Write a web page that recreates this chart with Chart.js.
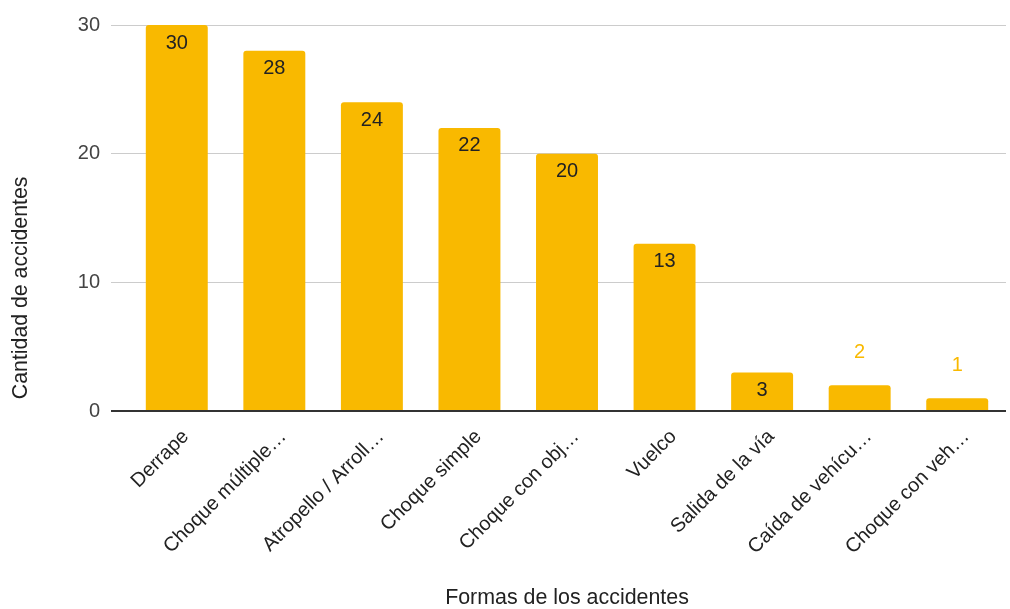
<!DOCTYPE html>
<html>
<head>
<meta charset="utf-8">
<script src="https://cdn.jsdelivr.net/npm/chart.js@4/dist/chart.umd.min.js"></script>
<style>
  html, body { margin: 0; padding: 0; background: #fff; }
  #wrap { width: 1010px; height: 609px; }
</style>
</head>
<body>
<div id="wrap"><canvas id="my-chart" width="1010" height="609"></canvas></div>
<script>
const categories = ['Derrape', 'Choque múltiple…', 'Atropello / Arroll…', 'Choque simple', 'Choque con obj…', 'Vuelco', 'Salida de la vía', 'Caída de vehícu…', 'Choque con veh…'];
const accidentCounts = [30, 28, 24, 22, 20, 13, 3, 2, 1];
const yTicks = [0, 10, 20, 30];

const barColor = '#F9B900';

// value labels: inside the bar top when it fits, above it otherwise
const valueLabels = {
  id: 'valueLabels',
  afterDatasetsDraw(chart) {
    const ctx = chart.ctx;
    const meta = chart.getDatasetMeta(0);
    ctx.save();
    ctx.font = '20px "Liberation Sans"';
    ctx.textAlign = 'center';
    ctx.textBaseline = 'middle';
    meta.data.forEach((bar, i) => {
      const h = bar.base - bar.y;
      if (h > 32) {
        ctx.fillStyle = '#222';
        ctx.fillText(accidentCounts[i], bar.x, bar.y + 18);
      } else {
        ctx.fillStyle = barColor;
        ctx.fillText(accidentCounts[i], bar.x, bar.y - 33);
      }
    });
    ctx.restore();
  }
};

// gridlines in the sheet start a bit left of the first category
const gridStub = {
  id: 'gridStub',
  beforeDatasetsDraw(chart) {
    const ctx = chart.ctx;
    const y = chart.scales.y;
    ctx.save();
    yTicks.forEach(v => {
      const w = v === 0 ? 2 : 1;
      const py = Math.round(y.getPixelForValue(v) - w / 2) + w / 2;
      ctx.strokeStyle = v === 0 ? '#333' : '#ccc';
      ctx.lineWidth = w;
      ctx.beginPath();
      ctx.moveTo(111, py);
      ctx.lineTo(chart.chartArea.left, py);
      ctx.stroke();
    });
    ctx.restore();
  }
};

const ctx = document.getElementById('my-chart').getContext('2d');
const chart = new Chart(ctx, {
  type: 'bar',
  data: {
    labels: categories,
    datasets: [{
      label: 'Cantidad de accidentes',
      data: accidentCounts,
      backgroundColor: barColor,
      borderRadius: { topLeft: 3, topRight: 3 },
      borderSkipped: 'start',
      categoryPercentage: 1,
      barPercentage: 0.635
    }]
  },
  options: {
    responsive: false,
    animation: false,
    layout: { padding: { top: 25, right: 4, left: 0, bottom: 0 } },
    plugins: {
      legend: { display: false },
      tooltip: { enabled: false }
    },
    scales: {
      x: {
        grid: { display: false },
        border: { display: false },
        ticks: {
          color: '#222',
          font: { family: 'Liberation Sans', size: 20 },
          minRotation: 45,
          maxRotation: 45,
          autoSkip: false,
          labelOffset: 9,
          padding: 6
        },
        title: {
          display: true,
          text: 'Formas de los accidentes',
          color: '#222',
          font: { family: 'Liberation Sans', size: 21.4, lineHeight: 1 },
          padding: { top: 0, bottom: 0 }
        },
        afterFit(scale) { scale.height = 198; }
      },
      y: {
        min: 0,
        max: 30,
        afterBuildTicks(scale) { scale.ticks = yTicks.map(v => ({ value: v })); },
        grid: {
          color: c => c.tick && c.tick.value === 0 ? '#333' : '#ccc',
          lineWidth: c => c.tick && c.tick.value === 0 ? 2 : 1,
          drawTicks: false
        },
        border: { display: false },
        ticks: {
          color: '#444',
          font: { family: 'Liberation Sans', size: 20 },
          padding: 28
        },
        title: {
          display: true,
          text: '  Cantidad de accidentes',
          align: 'start',
          color: '#222',
          font: { family: 'Liberation Sans', size: 21.3, lineHeight: 1 },
          padding: { top: 10, bottom: 0 }
        },
        afterFit(scale) {
          scale.width = 128;
          // keep the tick padding from pushing the plot down
          scale.paddingTop = 0;
          scale.paddingBottom = 0;
        }
      }
    }
  },
  plugins: [gridStub, valueLabels]
});
</script>
</body>
</html>
